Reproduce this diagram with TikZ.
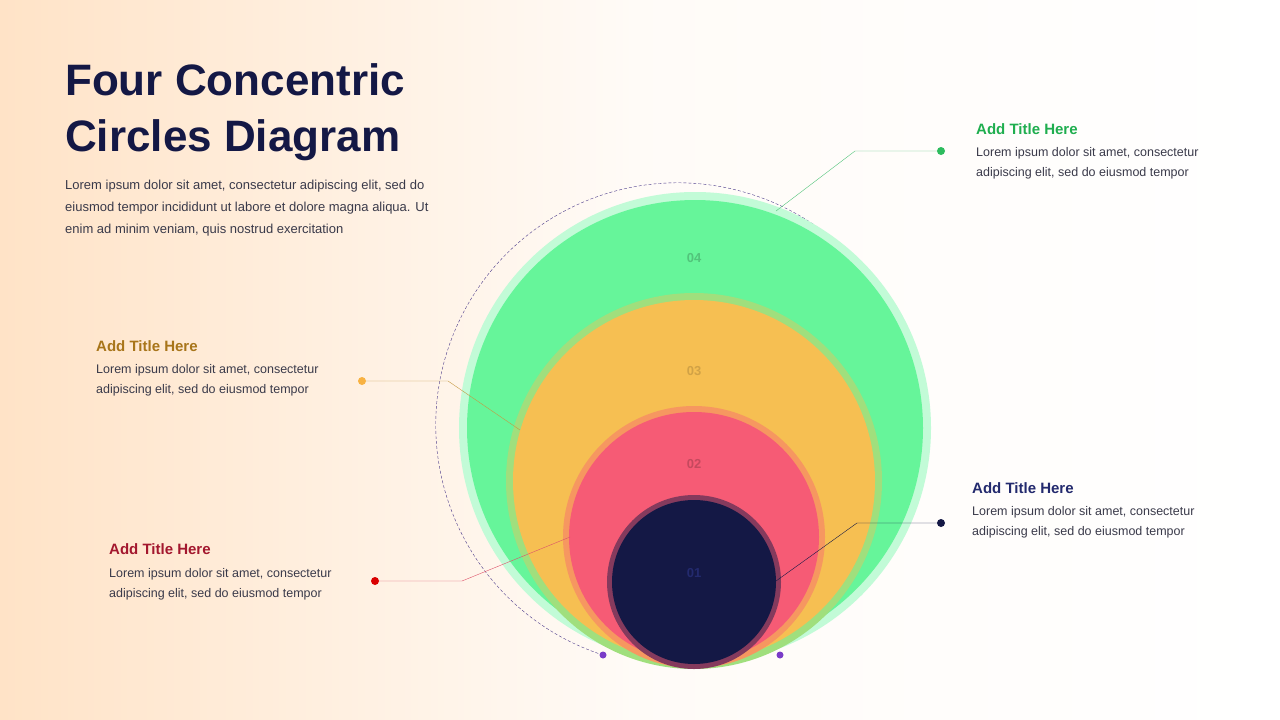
\documentclass[tikz,border=0pt]{standalone}
\usepackage{fontspec}
\setmainfont{Liberation Sans}
\usetikzlibrary{shadings}
\definecolor{cgreen}{HTML}{66F59A}
\definecolor{corange}{HTML}{F6BF52}
\definecolor{cred}{HTML}{F65B75}
\definecolor{cnavy}{HTML}{141845}
\definecolor{tgreen}{HTML}{1FAE4F}
\definecolor{torange}{HTML}{A8751A}
\definecolor{tred}{HTML}{A3172E}
\definecolor{tnavy}{HTML}{232A6E}
\definecolor{bodyc}{HTML}{3A3A4A}
\definecolor{dashc}{HTML}{4A3A8A}
\definecolor{dotp}{HTML}{7A3CC8}
\begin{document}
\begin{tikzpicture}[x=1pt,y=-1pt,
  ttl/.style={anchor=base west,inner sep=0,font=\fontsize{15}{18}\selectfont\bfseries},
  bdy/.style={anchor=north west,align=left,text=bodyc,font=\fontsize{12.5}{20}\selectfont,inner sep=0},
  num/.style={font=\fontsize{13}{15}\selectfont\bfseries},
  dot/.style={circle,inner sep=0,minimum size=8pt}]
\useasboundingbox (0,0) rectangle (1280,720);
\shade[left color=orange!22,right color=white,middle color=orange!3] (0,0) rectangle (1280,720);
% dashed outer circle arc
\draw[dashc,dash pattern=on 3pt off 2pt,thin] (603,655) arc[start angle=108,end angle=432,radius=242];
% circles with glows
\fill[cgreen!40] (695,428) circle (236);
\fill[cgreen] (695,428) circle (228);
\fill[cgreen!60!corange] (694,481) circle (188);
\fill[corange] (694,481) circle (181);
\fill[corange!60!cred] (694,537) circle (131);
\fill[cred] (694,537) circle (125);
\fill[cred!50!cnavy] (694,582) circle (87);
\fill[cnavy] (694,582) circle (82);
\node[num,text=cgreen!80!black] (n4) at (694,258) {04};
\node[num,text=corange!85!black] (n3) at (694,371) {03};
\node[num,text=cred!80!black] (n2) at (694,464) {02};
\node[num,text=tnavy] (n1) at (694,573) {01};
\node[dot,fill=dotp,minimum size=7pt] (p1) at (603,655) {};
\node[dot,fill=dotp,minimum size=7pt] (p2) at (780,655) {};
% title
\node[anchor=base west,inner sep=0,text=cnavy,font=\fontsize{44}{56}\selectfont\bfseries] (t1) at (65,95) {Four Concentric};
\node[anchor=base west,inner sep=0,text=cnavy,font=\fontsize{44}{56}\selectfont\bfseries] (t2) at (65,151) {Circles Diagram};
\node[anchor=north west,align=left,text=bodyc,font=\fontsize{13}{22}\selectfont,inner sep=0] (para) at (65,180) {Lorem ipsum dolor sit amet, consectetur adipiscing elit, sed do\\eiusmod tempor incididunt ut labore et dolore magna aliqua. Ut\\enim ad minim veniam, quis nostrud exercitation};
% callouts
\node[dot,fill=tgreen!80!cgreen] (d4) at (941,151) {};
\coordinate (k4) at (855,151); \coordinate (e4) at (776,211);
\draw[cgreen!80!black,thin] (d4) -- (k4) -- (e4);
\node[ttl,text=tgreen] (h4) at (976,134) {Add Title Here};
\node[bdy] (b4) at (976,147) {Lorem ipsum dolor sit amet, consectetur\\adipiscing elit, sed do eiusmod tempor};

\node[dot,fill=corange!80!orange] (d3) at (362,381) {};
\coordinate (k3) at (448,381); \coordinate (e3) at (520,430);
\draw[corange!80!black,thin] (d3) -- (k3) -- (e3);
\node[ttl,text=torange] (h3) at (96,351) {Add Title Here};
\node[bdy] (b3) at (96,364) {Lorem ipsum dolor sit amet, consectetur\\adipiscing elit, sed do eiusmod tempor};

\node[dot,fill=red!85!black] (d2) at (375,581) {};
\coordinate (k2) at (462,581); \coordinate (e2) at (570,537);
\draw[cred!90!black,thin] (d2) -- (k2) -- (e2);
\node[ttl,text=tred] (h2) at (109,554) {Add Title Here};
\node[bdy] (b2) at (109,568) {Lorem ipsum dolor sit amet, consectetur\\adipiscing elit, sed do eiusmod tempor};

\node[dot,fill=cnavy] (d1) at (941,523) {};
\coordinate (k1) at (857,523); \coordinate (e1) at (776,581);
\draw[cnavy,thin] (d1) -- (k1) -- (e1);
\node[ttl,text=tnavy] (h1) at (972,493) {Add Title Here};
\node[bdy] (b1) at (972,506) {Lorem ipsum dolor sit amet, consectetur\\adipiscing elit, sed do eiusmod tempor};
\end{tikzpicture}
\end{document}
